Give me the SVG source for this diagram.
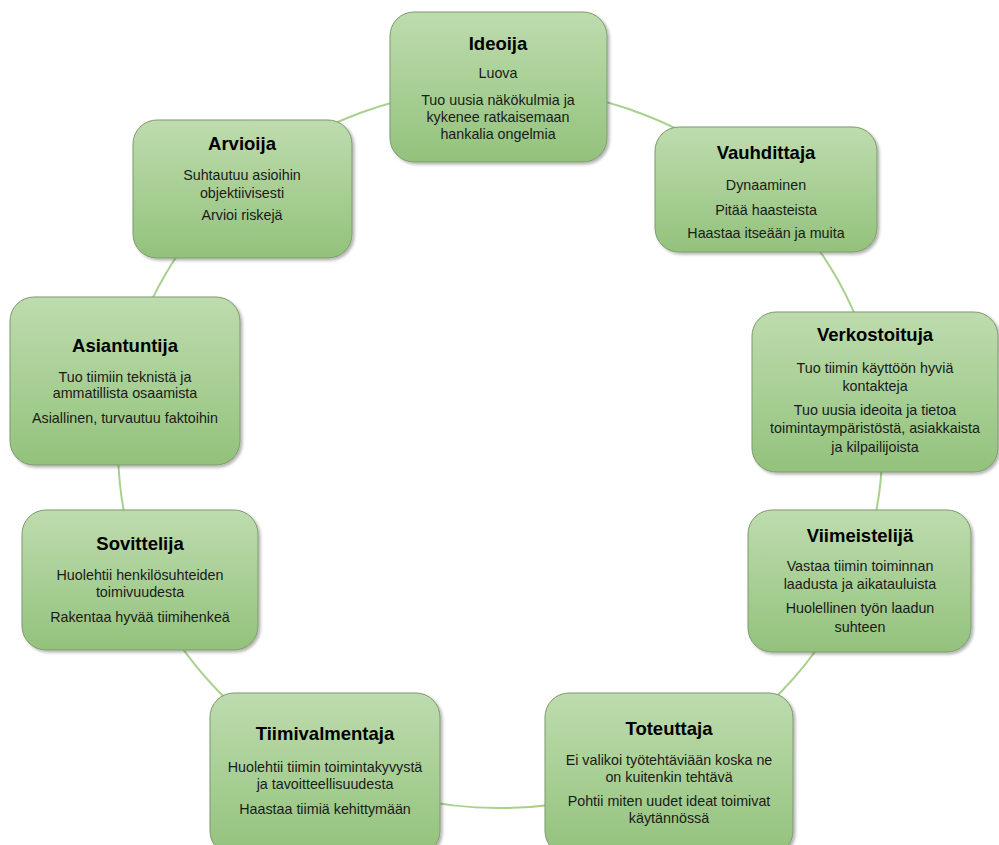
<svg xmlns="http://www.w3.org/2000/svg" width="999" height="845" viewBox="0 0 999 845">
<defs>
<linearGradient id="g" x1="0" y1="0" x2="0" y2="1">
<stop offset="0" stop-color="#bedcae"/>
<stop offset="1" stop-color="#93c27c"/>
</linearGradient>
<filter id="sh" x="-10%" y="-10%" width="125%" height="125%">
<feDropShadow dx="2" dy="2" stdDeviation="1.5" flood-color="#000" flood-opacity="0.3"/>
</filter>
<style>
.box{fill:url(#g);stroke:#7d9a6e;stroke-width:1;filter:url(#sh)}
.t{font-family:"Liberation Sans",Arial,sans-serif;font-size:18.5px;font-weight:bold;fill:#000;text-anchor:middle}
.b{font-family:"Liberation Sans",Arial,sans-serif;font-size:14.3px;fill:#1a1a1a;text-anchor:middle}
.c{fill:none;stroke:#a9d18e;stroke-width:2}
</style>
</defs>
<rect width="999" height="845" fill="#fff"/>
<g id="connectors">
<path class="c" d="M500,88 A382,360 0 0 1 766.3,189.9"/>
<path class="c" d="M766.3,189.9 A382,360 0 0 1 877.3,391.7"/>
<path class="c" d="M877.3,391.7 A382,360 0 0 1 855.4,579.9"/>
<path class="c" d="M855.4,579.9 A382,360 0 0 1 669.8,770.5"/>
<path class="c" d="M669.8,770.5 A382,360 0 0 1 326.6,768.8"/>
<path class="c" d="M326.6,768.8 A382,360 0 0 1 145.8,582.9"/>
<path class="c" d="M145.8,582.9 A382,360 0 0 1 125,379.3"/>
<path class="c" d="M125,379.3 A382,360 0 0 1 239.5,184.7"/>
<path class="c" d="M239.5,184.7 A382,360 0 0 1 500,88"/>
</g>
<g id="ideoija">
<rect class="box" x="390" y="12" width="217" height="150" rx="24"/>
<text class="t" x="498" y="50">Ideoija</text>
<text class="b" x="498" y="78">Luova</text>
<text class="b" x="498" y="105">Tuo uusia näkökulmia ja</text>
<text class="b" x="498" y="122">kykenee ratkaisemaan</text>
<text class="b" x="498" y="139">hankalia ongelmia</text>
</g>
<g id="vauhdittaja">
<rect class="box" x="655" y="127" width="222" height="125" rx="24"/>
<text class="t" x="766" y="159">Vauhdittaja</text>
<text class="b" x="766" y="190">Dynaaminen</text>
<text class="b" x="766" y="215">Pitää haasteista</text>
<text class="b" x="766" y="238">Haastaa itseään ja muita</text>
</g>
<g id="verkostoituja">
<rect class="box" x="752" y="312" width="246" height="160" rx="24"/>
<text class="t" x="875" y="341">Verkostoituja</text>
<text class="b" x="875" y="373">Tuo tiimin käyttöön hyviä</text>
<text class="b" x="875" y="391">kontakteja</text>
<text class="b" x="875" y="415">Tuo uusia ideoita ja tietoa</text>
<text class="b" x="875" y="433">toimintaympäristöstä, asiakkaista</text>
<text class="b" x="875" y="452">ja kilpailijoista</text>
</g>
<g id="viimeistelija">
<rect class="box" x="748" y="510" width="223" height="142" rx="24"/>
<text class="t" x="860" y="542">Viimeistelijä</text>
<text class="b" x="860" y="571">Vastaa tiimin toiminnan</text>
<text class="b" x="860" y="589">laadusta ja aikatauluista</text>
<text class="b" x="860" y="613">Huolellinen työn laadun</text>
<text class="b" x="860" y="632">suhteen</text>
</g>
<g id="toteuttaja">
<rect class="box" x="545" y="693" width="248" height="162" rx="24"/>
<text class="t" x="669" y="735">Toteuttaja</text>
<text class="b" x="669" y="765">Ei valikoi työtehtäviään koska ne</text>
<text class="b" x="669" y="782">on kuitenkin tehtävä</text>
<text class="b" x="669" y="806">Pohtii miten uudet ideat toimivat</text>
<text class="b" x="669" y="823">käytännössä</text>
</g>
<g id="tiimivalmentaja">
<rect class="box" x="210" y="693" width="230" height="162" rx="24"/>
<text class="t" x="325" y="740">Tiimivalmentaja</text>
<text class="b" x="325" y="772">Huolehtii tiimin toimintakyvystä</text>
<text class="b" x="325" y="789">ja tavoitteellisuudesta</text>
<text class="b" x="325" y="814">Haastaa tiimiä kehittymään</text>
</g>
<g id="sovittelija">
<rect class="box" x="22" y="510" width="236" height="140" rx="24"/>
<text class="t" x="140" y="550">Sovittelija</text>
<text class="b" x="140" y="580">Huolehtii henkilösuhteiden</text>
<text class="b" x="140" y="597">toimivuudesta</text>
<text class="b" x="140" y="622">Rakentaa hyvää tiimihenkeä</text>
</g>
<g id="asiantuntija">
<rect class="box" x="10" y="297" width="230" height="168" rx="24"/>
<text class="t" x="125" y="352">Asiantuntija</text>
<text class="b" x="125" y="382">Tuo tiimiin teknistä ja</text>
<text class="b" x="125" y="398">ammatillista osaamista</text>
<text class="b" x="125" y="423">Asiallinen, turvautuu faktoihin</text>
</g>
<g id="arvioija">
<rect class="box" x="133" y="120" width="219" height="138" rx="24"/>
<text class="t" x="242" y="150">Arvioija</text>
<text class="b" x="242" y="180">Suhtautuu asioihin</text>
<text class="b" x="242" y="198">objektiivisesti</text>
<text class="b" x="242" y="220">Arvioi riskejä</text>
</g>
</svg>
